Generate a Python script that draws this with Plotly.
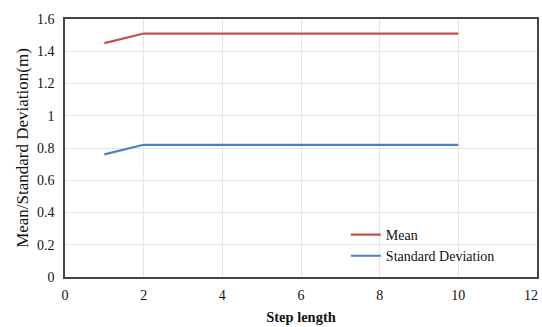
import plotly.graph_objects as go

step_length = [1, 2, 3, 4, 5, 6, 7, 8, 9, 10]
mean_vals = [1.45, 1.51, 1.51, 1.51, 1.51, 1.51, 1.51, 1.51, 1.51, 1.51]
std_vals = [0.76, 0.82, 0.82, 0.82, 0.82, 0.82, 0.82, 0.82, 0.82, 0.82]
x_ticks = [0, 2, 4, 6, 8, 10]
y_ticks = [0, 0.2, 0.4, 0.6, 0.8, 1, 1.2, 1.4, 1.6]
y_ticktext = ["0", "0.2", "0.4", "0.6", "0.8", "1", "1.2", "1.4", "1.6"]

font_family = "Liberation Serif, Times New Roman, serif"

fig = go.Figure()
fig.add_trace(go.Scatter(x=step_length, y=mean_vals, mode="lines", name="Mean",
                         line=dict(color="#C0504D", width=2.25)))
fig.add_trace(go.Scatter(x=step_length, y=std_vals, mode="lines", name="Standard Deviation",
                         line=dict(color="#4F81BD", width=2.25)))

# last x tick label, kept inside the page edge
fig.add_annotation(x=12, y=0, xref="x", yref="paper", text="12", showarrow=False,
                   xanchor="right", xshift=3, yanchor="top", yshift=-9,
                   font=dict(size=14, color="#111"))

fig.update_layout(
    width=542, height=327,
    margin=dict(l=65, r=3, t=19, b=50),
    paper_bgcolor="white", plot_bgcolor="white",
    font=dict(family=font_family, size=14, color="#111"),
    showlegend=True,
    legend=dict(x=0.595, y=0.225, xanchor="left", yanchor="top",
                bgcolor="rgba(0,0,0,0)", font=dict(size=14),
                tracegroupgap=0, itemwidth=30),
    xaxis=dict(range=[0, 12], tickvals=x_ticks,
               showgrid=True, gridcolor="#E6E6E6", gridwidth=1,
               showline=True, linecolor="#444", linewidth=1.5, mirror=True,
               ticks="", zeroline=False, ticklabelstandoff=4,
               title=dict(text="<b>Step length</b>", font=dict(size=14.5), standoff=10)),
    yaxis=dict(range=[0, 1.6], tickvals=y_ticks, ticktext=y_ticktext,
               showgrid=True, gridcolor="#E6E6E6", gridwidth=1,
               showline=True, linecolor="#444", linewidth=1.5, mirror=True,
               ticks="", zeroline=False, ticklabelstandoff=6,
               title=dict(text="Mean/Standard Deviation(m)", font=dict(size=17), standoff=4)),
)

fig.write_html("out.html")
